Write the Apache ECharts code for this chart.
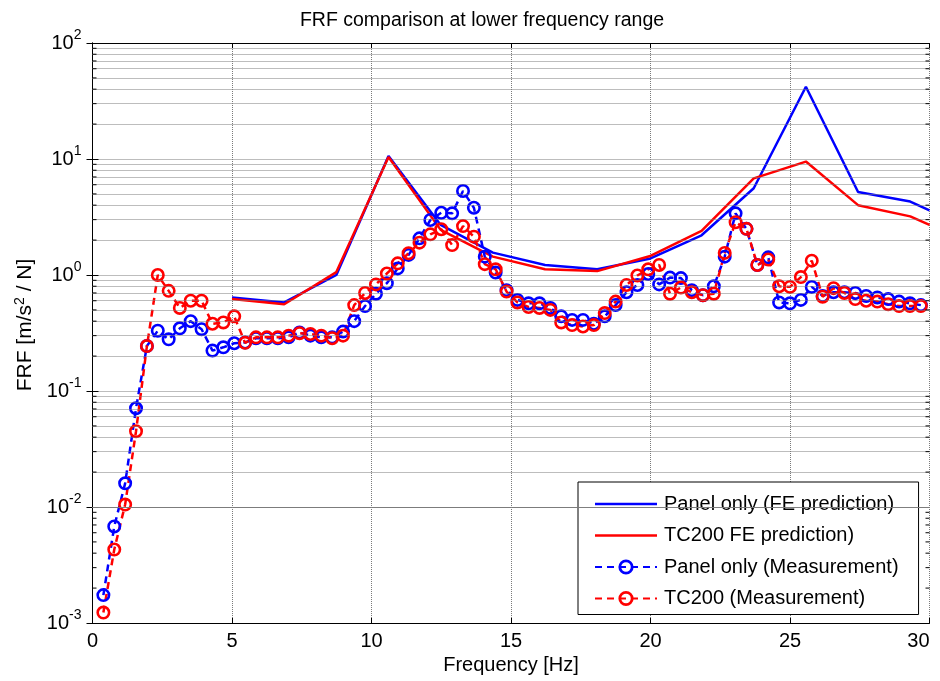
<!DOCTYPE html>
<html>
<head>
<meta charset="utf-8">
<script src="https://cdn.jsdelivr.net/npm/echarts@6/dist/echarts.min.js"></script>
<style>
  html, body { margin: 0; padding: 0; background: #fff; }
  #chart { width: 940px; height: 681px; }
</style>
</head>
<body>
<div id="chart"></div>
<script>
// FE model frequencies [Hz] and predicted FRF magnitudes
const feFreq = [5.0, 6.87, 8.74, 10.61, 12.48, 14.35, 16.22, 18.09, 19.96, 21.83, 23.70, 25.57, 27.44, 29.31, 30.0];
const panelFE = [0.64, 0.58, 1.0, 10.6, 2.7, 1.56, 1.22, 1.12, 1.38, 2.2, 5.6, 42, 5.2, 4.3, 3.6];
const tc200FE = [0.62, 0.56, 1.06, 10.4, 2.45, 1.44, 1.12, 1.08, 1.45, 2.4, 6.8, 9.5, 4.0, 3.2, 2.7];

// Measured spectral lines [Hz]
const measFreq = [
  0.39, 0.78, 1.17, 1.56, 1.95, 2.34, 2.73, 3.13, 3.52, 3.91,
  4.30, 4.69, 5.08, 5.47, 5.86, 6.25, 6.64, 7.03, 7.42, 7.81,
  8.20, 8.59, 8.98, 9.38, 9.77, 10.16, 10.55, 10.94, 11.33, 11.72,
  12.11, 12.50, 12.89, 13.28, 13.67, 14.06, 14.45, 14.84, 15.23, 15.63,
  16.02, 16.41, 16.80, 17.19, 17.58, 17.97, 18.36, 18.75, 19.14, 19.53,
  19.92, 20.31, 20.70, 21.09, 21.48, 21.88, 22.27, 22.66, 23.05, 23.44,
  23.83, 24.22, 24.61, 25.00, 25.39, 25.78, 26.17, 26.56, 26.95, 27.34,
  27.73, 28.13, 28.52, 28.91, 29.30, 29.69
];
const panelMeas = [
  0.00174, 0.0068, 0.016, 0.071, 0.244, 0.331, 0.279, 0.347, 0.40, 0.341,
  0.223, 0.238, 0.258, 0.262, 0.285, 0.285, 0.285, 0.29, 0.32, 0.30,
  0.29, 0.29, 0.325, 0.40, 0.54, 0.69, 0.85, 1.14, 1.49, 2.07,
  2.98, 3.44, 3.40, 5.3, 3.80, 1.44, 1.05, 0.74, 0.61, 0.57,
  0.57, 0.52, 0.44, 0.41, 0.41, 0.38, 0.44, 0.55, 0.71, 0.82,
  1.02, 0.83, 0.95, 0.94, 0.74, 0.67, 0.80, 1.44, 3.4, 2.5,
  1.22, 1.42, 0.58, 0.57, 0.61, 0.79, 0.66, 0.71, 0.71, 0.70,
  0.66, 0.64, 0.62, 0.59, 0.57, 0.55
];
const tc200Meas = [
  0.00123, 0.0043, 0.0105, 0.045, 0.244, 1.0, 0.73, 0.52, 0.60, 0.60,
  0.38, 0.39, 0.44, 0.26, 0.29, 0.29, 0.29, 0.30, 0.315, 0.31,
  0.30, 0.285, 0.30, 0.55, 0.70, 0.83, 1.03, 1.26, 1.54, 1.90,
  2.24, 2.48, 1.81, 2.64, 2.14, 1.24, 1.12, 0.72, 0.58, 0.53,
  0.52, 0.50, 0.39, 0.37, 0.36, 0.37, 0.47, 0.59, 0.82, 0.99,
  1.12, 1.22, 0.69, 0.78, 0.71, 0.67, 0.69, 1.55, 2.85, 2.5,
  1.22, 1.36, 0.80, 0.79, 0.96, 1.33, 0.65, 0.77, 0.70, 0.62,
  0.60, 0.59, 0.56, 0.54, 0.54, 0.54
];

// Minor log grid positions (2..9 x 10^n)
const minorGrid = [
  0.002, 0.003, 0.004, 0.005, 0.006, 0.007, 0.008, 0.009,
  0.02, 0.03, 0.04, 0.05, 0.06, 0.07, 0.08, 0.09,
  0.2, 0.3, 0.4, 0.5, 0.6, 0.7, 0.8, 0.9,
  2, 3, 4, 5, 6, 7, 8, 9,
  20, 30, 40, 50, 60, 70, 80, 90
];

const seriesNames = [
  'Panel only (FE prediction)',
  'TC200 FE prediction)',
  'Panel only (Measurement)',
  'TC200 (Measurement)'
];

const FONT = '"Liberation Sans", Arial, Helvetica, sans-serif';
const BLUE = '#0000ff';
const RED = '#ff0000';
const gridLine = { color: '#7a7a7a', type: [1, 1], width: 1 };
// hollow ring marker, so the connecting line shows through it
const RING = 'path://M0,-10A10,10 0 1,1 0,10A10,10 0 1,1 0,-10ZM0,-6.3A6.3,6.3 0 1,0 0,6.3A6.3,6.3 0 1,0 0,-6.3Z';
const SOLID_ICON = 'path://M0,0H62V2.5H0Z';

const zip = (xs, ys) => xs.map((x, i) => [x, ys[i]]);

const chart = echarts.init(document.getElementById('chart'), null, { renderer: 'canvas' });

chart.setOption({
  backgroundColor: '#fff',
  animation: false,
  title: {
    text: 'FRF comparison at lower frequency range',
    left: 477,
    textAlign: 'center',
    top: 6,
    textStyle: { fontFamily: FONT, fontSize: 19.5, fontWeight: 'normal', color: '#000' }
  },
  grid: { left: 92.5, right: 10.5, top: 43, bottom: 58, containLabel: false },
  legend: {
    orient: 'vertical',
    left: 578,
    top: 482,
    padding: [12, 20, 6, 16],
    itemGap: 11.5,
    itemWidth: 62,
    itemHeight: 19,
    backgroundColor: '#fff',
    borderColor: '#000',
    borderWidth: 1,
    textStyle: { fontFamily: FONT, fontSize: 20, color: '#000', padding: [0, 0, 0, 2] },
    data: [
      { name: seriesNames[0], icon: SOLID_ICON },
      { name: seriesNames[1], icon: SOLID_ICON },
      { name: seriesNames[2] },
      { name: seriesNames[3] }
    ]
  },
  xAxis: [
    {
      type: 'value', min: 0, max: 30, interval: 5,
      name: 'Frequency [Hz]', nameLocation: 'middle', nameGap: 31,
      nameTextStyle: { fontFamily: FONT, fontSize: 20, color: '#000' },
      axisLine: { show: true, onZero: false, lineStyle: { color: '#000', width: 1 } },
      axisTick: { show: true, inside: true, length: 5, lineStyle: { color: '#000' } },
      axisLabel: { fontFamily: FONT, fontSize: 20, color: '#000', margin: 8, alignMaxLabel: 'right' },
      splitLine: { show: true, lineStyle: gridLine }
    },
    {
      type: 'value', min: 0, max: 30, interval: 5, position: 'top',
      axisLine: { show: true, onZero: false, lineStyle: { color: '#000', width: 1 } },
      axisTick: { show: true, inside: true, length: 5, lineStyle: { color: '#000' } },
      axisLabel: { show: false },
      splitLine: { show: false }
    }
  ],
  yAxis: [
    {
      type: 'log', logBase: 10, min: 0.001, max: 100,
      name: 'FRF [m/s{sup|2} / N]', nameLocation: 'middle', nameGap: 46,
      nameTextStyle: {
        fontFamily: FONT, fontSize: 21, color: '#000', padding: [0, 0, 0, 16],
        rich: { sup: { fontFamily: FONT, fontSize: 14, color: '#000', verticalAlign: 'bottom', padding: [0, 0, 11, 0] } }
      },
      axisLine: { show: true, lineStyle: { color: '#000', width: 1 } },
      axisTick: { show: true, inside: true, length: 6, lineStyle: { color: '#000' } },
      axisLabel: {
        margin: 11,
        fontFamily: FONT, fontSize: 20, color: '#000',
        formatter: v => '{b|10}{e|' + Math.round(Math.log10(v)) + '}',
        rich: {
          b: { fontFamily: FONT, fontSize: 20, color: '#000' },
          e: { fontFamily: FONT, fontSize: 14, color: '#000', verticalAlign: 'bottom', padding: [0, 0, 15, 0] }
        }
      },
      splitLine: { show: true, lineStyle: gridLine }
    },
    {
      type: 'log', logBase: 10, min: 0.001, max: 100, position: 'right',
      axisLine: { show: true, lineStyle: { color: '#000', width: 1 } },
      axisTick: { show: true, inside: true, length: 6, lineStyle: { color: '#000' } },
      axisLabel: { show: false },
      splitLine: { show: false }
    }
  ],
  series: [
    {
      // dotted minor grid at 2..9 of every decade
      name: '_minorGrid', type: 'line', data: [], silent: true,
      markLine: {
        silent: true, symbol: 'none', animation: false,
        label: { show: false },
        lineStyle: gridLine,
        data: minorGrid.map(v => ({ yAxis: v }))
      }
    },
    {
      // short inward minor ticks on the left and right frame
      name: '_minorTicks', type: 'custom', silent: true, z: 5,
      data: minorGrid.map(v => [0, v]),
      encode: { x: 0, y: 1 },
      renderItem: (params, api) => {
        const v = api.value(1);
        const l = api.coord([0, v]);
        const r = api.coord([30, v]);
        const st = { stroke: '#000', lineWidth: 1 };
        return {
          type: 'group',
          children: [
            { type: 'line', shape: { x1: l[0], y1: l[1], x2: l[0] + 4, y2: l[1] }, style: st },
            { type: 'line', shape: { x1: r[0] - 4, y1: r[1], x2: r[0], y2: r[1] }, style: st }
          ]
        };
      }
    },
    {
      name: seriesNames[0], type: 'line', data: zip(feFreq, panelFE),
      showSymbol: false, symbol: 'none', color: BLUE,
      lineStyle: { color: BLUE, width: 2.5 }
    },
    {
      name: seriesNames[1], type: 'line', data: zip(feFreq, tc200FE),
      showSymbol: false, symbol: 'none', color: RED,
      lineStyle: { color: RED, width: 2.5 }
    },
    {
      name: seriesNames[2], type: 'line', data: zip(measFreq, panelMeas),
      symbol: RING, symbolSize: 14, showAllSymbol: true, color: BLUE,
      itemStyle: { color: BLUE, borderWidth: 0 },
      lineStyle: { color: BLUE, width: 2.5, type: [7, 5] }
    },
    {
      name: seriesNames[3], type: 'line', data: zip(measFreq, tc200Meas),
      symbol: RING, symbolSize: 14, showAllSymbol: true, color: RED,
      itemStyle: { color: RED, borderWidth: 0 },
      lineStyle: { color: RED, width: 2.5, type: [7, 5] }
    }
  ]
});
</script>
</body>
</html>
